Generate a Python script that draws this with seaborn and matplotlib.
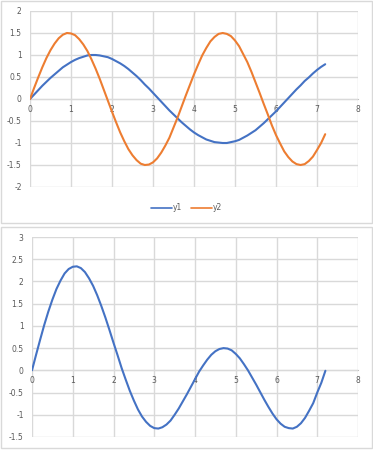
import pandas as pd
import matplotlib.pyplot as plt
import seaborn as sns
from matplotlib.patches import Rectangle
from matplotlib.ticker import MultipleLocator, FuncFormatter

# valores (passo 0.1)
x = [0.0, 0.1, 0.2, 0.3, 0.4, 0.5, 0.6, 0.7, 0.8, 0.9,
     1.0, 1.1, 1.2, 1.3, 1.4, 1.5, 1.6, 1.7, 1.8, 1.9,
     2.0, 2.1, 2.2, 2.3, 2.4, 2.5, 2.6, 2.7, 2.8, 2.9,
     3.0, 3.1, 3.2, 3.3, 3.4, 3.5, 3.6, 3.7, 3.8, 3.9,
     4.0, 4.1, 4.2, 4.3, 4.4, 4.5, 4.6, 4.7, 4.8, 4.9,
     5.0, 5.1, 5.2, 5.3, 5.4, 5.5, 5.6, 5.7, 5.8, 5.9,
     6.0, 6.1, 6.2, 6.3, 6.4, 6.5, 6.6, 6.7, 6.8, 6.9,
     7.0, 7.1, 7.2]
y1 = [0.00, 0.10, 0.20, 0.30, 0.39, 0.48, 0.56, 0.64, 0.72, 0.78,
      0.84, 0.89, 0.93, 0.96, 0.99, 1.00, 1.00, 0.99, 0.97, 0.95,
      0.91, 0.86, 0.81, 0.75, 0.68, 0.60, 0.52, 0.43, 0.33, 0.24,
      0.14, 0.04, -0.06, -0.16, -0.26, -0.35, -0.44, -0.53, -0.61, -0.69,
      -0.76, -0.82, -0.87, -0.92, -0.95, -0.98, -0.99, -1.00, -1.00, -0.98,
      -0.96, -0.93, -0.88, -0.83, -0.77, -0.71, -0.63, -0.55, -0.46, -0.37,
      -0.28, -0.18, -0.08, 0.02, 0.12, 0.22, 0.31, 0.41, 0.49, 0.58,
      0.66, 0.73, 0.79]
y2 = [0.00, 0.25, 0.49, 0.72, 0.93, 1.11, 1.26, 1.38, 1.46, 1.50,
      1.49, 1.45, 1.36, 1.24, 1.09, 0.90, 0.69, 0.46, 0.21, -0.04,
      -0.29, -0.53, -0.76, -0.96, -1.14, -1.28, -1.39, -1.47, -1.50, -1.49,
      -1.44, -1.35, -1.22, -1.06, -0.88, -0.65, -0.42, -0.17, 0.08, 0.32,
      0.56, 0.78, 0.99, 1.16, 1.31, 1.41, 1.48, 1.50, 1.48, 1.43,
      1.33, 1.20, 1.02, 0.84, 0.62, 0.38, 0.14, -0.11, -0.35, -0.60,
      -0.82, -1.01, -1.19, -1.32, -1.42, -1.48, -1.50, -1.48, -1.41, -1.31,
      -1.16, -1.00, -0.80]
soma = [0.00, 0.35, 0.69, 1.02, 1.32, 1.59, 1.83, 2.02, 2.18, 2.28,
        2.33, 2.34, 2.30, 2.21, 2.07, 1.90, 1.69, 1.45, 1.19, 0.91,
        0.62, 0.34, 0.05, -0.21, -0.46, -0.68, -0.88, -1.04, -1.16, -1.25,
        -1.30, -1.31, -1.28, -1.22, -1.13, -1.00, -0.86, -0.70, -0.54, -0.37,
        -0.20, -0.03, 0.11, 0.24, 0.35, 0.43, 0.48, 0.50, 0.49, 0.45,
        0.37, 0.27, 0.14, 0.00, -0.16, -0.32, -0.49, -0.66, -0.82, -0.97,
        -1.10, -1.20, -1.27, -1.30, -1.31, -1.27, -1.19, -1.07, -0.91, -0.74,
        -0.50, -0.28, -0.01]

BLUE = "#4472C4"
ORANGE = "#ED7D31"
GRID = "#D9D9D9"
TXT = "#595959"

sns.set_style("white")
plt.rcParams["font.family"] = ["DejaVu Sans"]
plt.rcParams["axes.unicode_minus"] = False

W, H = 373, 450
fig = plt.figure(figsize=(W / 100, H / 100), dpi=100)

# molduras dos dois gráficos
for (x0, y0, x1, y1_) in [(1, 1, 372, 223), (1, 227, 372, 448)]:
    fig.patches.append(Rectangle((x0 / W, 1 - y1_ / H), (x1 - x0) / W, (y1_ - y0) / H,
                                 transform=fig.transFigure, fill=False,
                                 edgecolor="#D9D9D9", linewidth=1))


def estilo(ax, ymin, ymax):
    ax.set_xlim(0, 8)
    ax.set_ylim(ymin, ymax)
    ax.xaxis.set_major_locator(MultipleLocator(1))
    ax.yaxis.set_major_locator(MultipleLocator(0.5))
    fmt = FuncFormatter(lambda v, p: f"{v:g}")
    ax.xaxis.set_major_formatter(fmt)
    ax.yaxis.set_major_formatter(fmt)
    ax.grid(True, color=GRID, linewidth=1)
    ax.set_axisbelow(True)
    for s in ["top", "right", "left"]:
        ax.spines[s].set_visible(False)
    ax.spines["bottom"].set_position(("data", 0))
    ax.spines["bottom"].set_color("#BFBFBF")
    ax.spines["bottom"].set_zorder(0.5)
    ax.tick_params(axis="x", length=0, pad=4, labelsize=5.5, labelcolor=TXT)
    ax.tick_params(axis="y", length=0, pad=6, labelsize=5.5, labelcolor=TXT)
    ax.set_xlabel("")
    ax.set_ylabel("")


# gráfico de cima
ax1 = fig.add_axes([30 / W, 1 - 187 / H, 328 / W, 176 / H])
df = pd.DataFrame({"x": x, "y1": y1, "y2": y2})
sns.lineplot(data=df, x="x", y="y1", ax=ax1, color=BLUE, linewidth=1.5, sort=False, label="y1")
sns.lineplot(data=df, x="x", y="y2", ax=ax1, color=ORANGE, linewidth=1.5, sort=False, label="y2")
estilo(ax1, -2, 2)
handles, labels = ax1.get_legend_handles_labels()
ax1.get_legend().remove()
leg = fig.legend(handles, labels, loc="center", bbox_to_anchor=(0.5, 1 - 208 / H), ncol=2,
                 frameon=False, fontsize=5.5, labelcolor=TXT, handlelength=2.8,
                 handletextpad=0.15, columnspacing=1.1)
for ln in leg.get_lines():
    ln.set_linewidth(1.2)

# gráfico de baixo
ax2 = fig.add_axes([32 / W, 1 - 437 / H, 326 / W, 200 / H])
df2 = pd.DataFrame({"x": x, "y": soma})
sns.lineplot(data=df2, x="x", y="y", ax=ax2, color=BLUE, linewidth=1.5, sort=False)
estilo(ax2, -1.5, 3)

fig.savefig("out.png", dpi=100)
